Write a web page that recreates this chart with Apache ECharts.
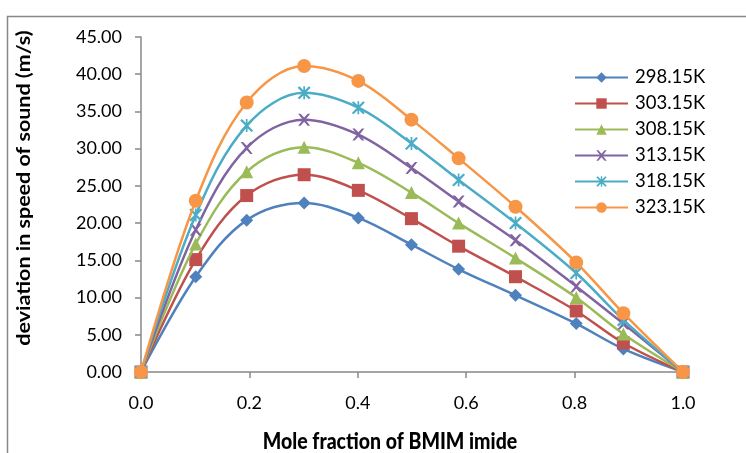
<!DOCTYPE html>
<html><head><meta charset="utf-8">
<script src="https://cdn.jsdelivr.net/npm/echarts@6/dist/echarts.min.js"></script>
<style>html,body{margin:0;padding:0;background:#fff}#c{width:746px;height:453px}</style>
</head><body><div id="c"></div>
<script>
const xValues = [0, 0.101, 0.195, 0.301, 0.401, 0.499, 0.586, 0.691, 0.803, 0.890, 1.0];
const seriesNames = ['298.15K','303.15K','308.15K','313.15K','318.15K','323.15K'];
const s298 = [0, 12.8, 20.4, 22.7, 20.7, 17.1, 13.8, 10.3, 6.5, 3.1, 0];
const s303 = [0, 15.1, 23.7, 26.5, 24.4, 20.6, 16.9, 12.8, 8.2, 3.9, 0];
const s308 = [0, 17.2, 26.9, 30.2, 28.1, 24.1, 20.0, 15.3, 10.0, 5.1, 0];
const s313 = [0, 19.1, 30.1, 33.9, 31.9, 27.4, 22.9, 17.7, 11.5, 6.5, 0];
const s318 = [0, 21.1, 33.1, 37.5, 35.5, 30.7, 25.8, 20.0, 13.3, 7.0, 0];
const s323 = [0, 23.0, 36.2, 41.1, 39.1, 33.9, 28.7, 22.2, 14.7, 7.9, 0];
const yTicks = [0,5,10,15,20,25,30,35,40,45];
const xTicks = [0,0.2,0.4,0.6,0.8,1.0];
const xTitle = 'Mole fraction of BMIM imide';
const yTitle = 'deviation in speed of sound (m/s)';

const colors = ['#4F81BD','#C0504D','#9BBB59','#8064A2','#4BACC6','#F79646'];
const xPath = 'path://M0,0 L2,0 L5,3.2 L8,0 L10,0 L6.1,5 L10,10 L8,10 L5,6.8 L2,10 L0,10 L3.9,5 Z';
const starPath = 'path://M0,1 L1.3,0 L5,3.6 L8.7,0 L10,1 L6.1,5 L10,9 L8.7,10 L5,6.4 L1.3,10 L0,9 L3.9,5 Z M4.35,0 L5.65,0 L5.65,10 L4.35,10 Z';
const symbols = ['diamond','rect','triangle',xPath,starPath,'circle'];
const sizes = [13,13,13,12,13,14];
const allData = [s298,s303,s308,s313,s318,s323];
const FONT = 'Lato';

const series = allData.map((vals, i) => ({
  name: seriesNames[i],
  type: 'line',
  data: xValues.map((x, j) => [x, vals[j]]),
  smooth: 0.35,
  symbol: symbols[i],
  symbolSize: sizes[i],
  lineStyle: {color: colors[i], width: 2.5},
  itemStyle: {color: colors[i]},
  z: 2 + i
}));

const chart = echarts.init(document.getElementById('c'), null, {renderer: 'canvas'});
chart.setOption({
  animation: false,
  color: colors,
  graphic: [
    {type: 'rect', left: 5, top: 14, shape: {width: 800, height: 500}, style: {fill: 'none', stroke: '#888', lineWidth: 1.5}, silent: true},
    {type: 'text', x: 390, y: 442, scaleY: 1.15, style: {text: xTitle, fontFamily: FONT, fontSize: 19.5, fontWeight: 900, fill: '#000', textAlign: 'center', textVerticalAlign: 'middle'}, silent: true},
    {type: 'text', x: 24, y: 188, rotation: Math.PI / 2, scaleX: 1.13, style: {text: yTitle, fontFamily: FONT, fontSize: 19, fontWeight: 'bold', fill: '#000', textAlign: 'center', textVerticalAlign: 'middle'}, silent: true}
  ],
  grid: {left: 141, right: 63, top: 37, bottom: 81, containLabel: false},
  legend: {
    orient: 'vertical', left: 574, top: 68, padding: 0, itemWidth: 53, itemHeight: 13, itemGap: 7,
    textStyle: {fontFamily: FONT, fontSize: 18.5, color: '#000', padding: [0,0,0,2]},
    data: seriesNames
  },
  xAxis: {
    type: 'value', min: 0, max: 1, interval: 0.2,
    axisLine: {show: true, lineStyle: {color: '#888', width: 1.5}},
    axisTick: {show: true, length: 6, lineStyle: {color: '#888', width: 1.5}},
    axisLabel: {fontFamily: FONT, fontSize: 18, color: '#000', margin: 22, formatter: v => v.toFixed(1)},
    splitLine: {show: false}
  },
  yAxis: {
    type: 'value', min: 0, max: 45, interval: 5,
    axisLine: {show: true, lineStyle: {color: '#888', width: 1.5}},
    axisTick: {show: true, length: 6, lineStyle: {color: '#888', width: 1.5}},
    axisLabel: {fontFamily: FONT, fontSize: 18, color: '#000', margin: 19, formatter: v => v.toFixed(2)},
    splitLine: {show: false}
  },
  series: series
});
</script></body></html>
